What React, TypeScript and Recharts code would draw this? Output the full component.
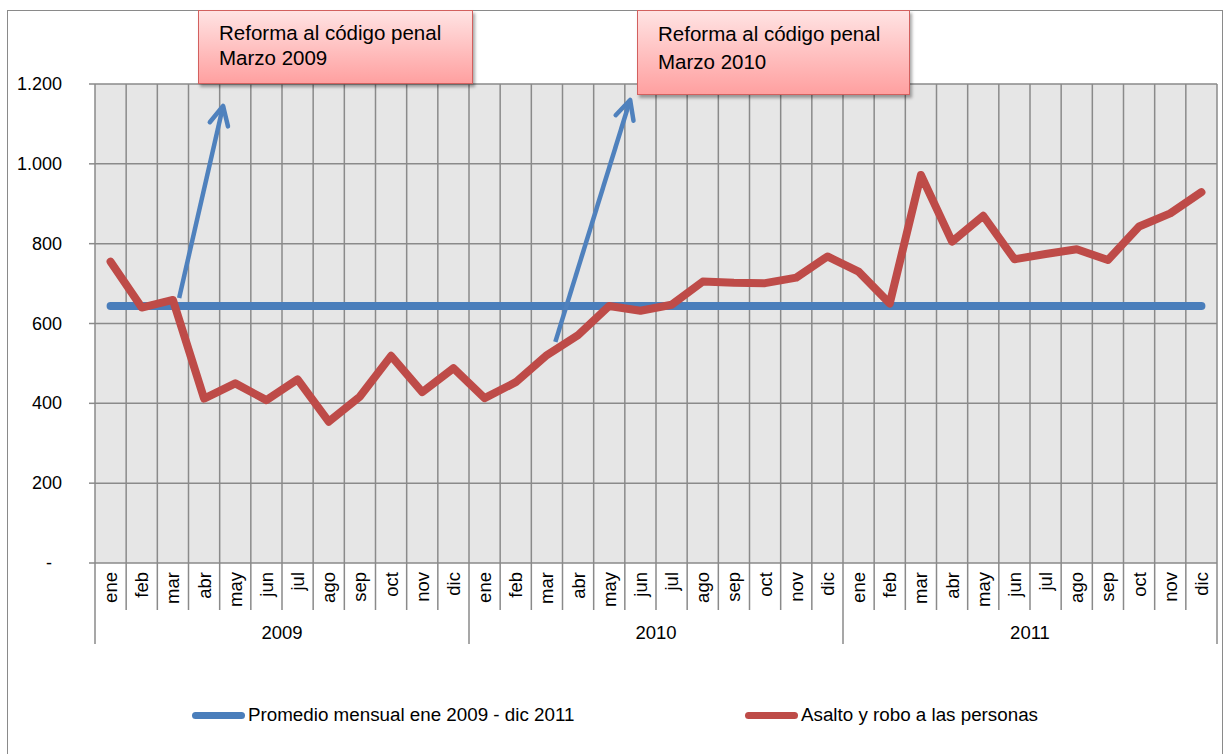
import { CartesianGrid, Line, LineChart, ReferenceLine, XAxis, YAxis } from 'recharts';

const MESES = ['ene', 'feb', 'mar', 'abr', 'may', 'jun', 'jul', 'ago', 'sep', 'oct', 'nov', 'dic'];
const ANIOS = ['2009', '2010', '2011'];

// Asalto y robo a las personas, ene 2009 - dic 2011
const ASALTO_2009 = [755, 640, 659, 412, 450, 408, 460, 354, 417, 519, 428, 488];
const ASALTO_2010 = [413, 453, 521, 571, 644, 632, 647, 705, 702, 701, 715, 768];
const ASALTO_2011 = [730, 650, 972, 805, 870, 761, 774, 786, 759, 843, 876, 929];
const ASALTO = [...ASALTO_2009, ...ASALTO_2010, ...ASALTO_2011];

// Promedio mensual ene 2009 - dic 2011
const PROMEDIO = 644;

const Y_TICKS = [0, 200, 400, 600, 800, 1000, 1200];

// anotaciones: [mes de inicio, valor de inicio, mes de la punta, valor de la punta]
const FLECHA_2009 = [2.2, 664, 3.61, 1145];
const FLECHA_2010 = [14.27, 554, 16.67, 1160];

const FONT = '"Liberation Sans", Arial, sans-serif';
const AZUL = '#4a7ebb';
const ROJO = '#be4b48';
const GRIS = '#8a8a8a';

const rows = ASALTO.map((v, i) => ({
  i,
  mes: MESES[i % 12],
  anio: ANIOS[Math.floor(i / 12)],
  promedio: PROMEDIO,
  asalto: v,
}));

const idx = rows.map((r) => r.i);
const bordes = [...idx.map((i) => i - 0.5), idx.length - 0.5];
const centrosAnio = ANIOS.map((_, k) => k * 12 + 5.5);

// the x axes are stacked 1px apart; ticks use the plot bottom as origin
const BASE = 563;

function fmt(v: number) {
  if (v === 0) return '-';
  if (v >= 1000) return `${Math.floor(v / 1000)}.${String(v % 1000).padStart(3, '0')}`;
  return String(v);
}

function BordeTick({ x, payload }: any) {
  const k = Math.round(payload.value + 0.5);
  const largo = k % 12 === 0 ? 81 : 47;
  return <line x1={x} y1={BASE} x2={x} y2={BASE + largo} stroke={GRIS} strokeWidth={1.5} />;
}

function MesTick({ x, payload }: any) {
  const yy = BASE + 9;
  return (
    <text
      x={x}
      y={yy}
      transform={`rotate(-90 ${x} ${yy})`}
      textAnchor="end"
      dominantBaseline="central"
      fontSize={18.5}
      fill="#000"
    >
      {MESES[payload.value % 12]}
    </text>
  );
}

function AnioTick({ x, payload }: any) {
  return (
    <text x={x} y={BASE + 76} textAnchor="middle" fontSize={18.5} fill="#000">
      {ANIOS[Math.floor(payload.value / 12)]}
    </text>
  );
}

function ValorTick({ x, y, payload }: any) {
  const v = payload.value;
  return (
    <text
      x={v === 0 ? x - 10 : x}
      y={y}
      textAnchor="end"
      dominantBaseline="central"
      fontSize={18}
      fill="#000"
    >
      {fmt(v)}
    </text>
  );
}

function Flecha(props: any) {
  const { x1, y1, x2, y2 } = props;
  const ang = Math.atan2(y1 - y2, x1 - x2);
  const len = 21;
  const abre = 0.46;
  const a = [x2 + len * Math.cos(ang + abre), y2 + len * Math.sin(ang + abre)];
  const b = [x2 + len * Math.cos(ang - abre), y2 + len * Math.sin(ang - abre)];
  return (
    <g>
      <line x1={x1} y1={y1} x2={x2} y2={y2} stroke="#4f81bd" strokeWidth={4.5} />
      <polyline
        points={`${a[0]},${a[1]} ${x2},${y2} ${b[0]},${b[1]}`}
        fill="none"
        stroke="#4f81bd"
        strokeWidth={4.5}
        strokeLinecap="round"
        strokeLinejoin="round"
      />
    </g>
  );
}

function Nota({ left, top, width, height, lineHeight, padTop, lines }: any) {
  return (
    <div
      style={{
        position: 'absolute',
        left,
        top,
        width,
        height,
        boxSizing: 'border-box',
        border: '1.5px solid #d2605e',
        background: 'linear-gradient(#ffe3e3, #ffa0a0)',
        boxShadow: '2px 3px 3px rgba(0,0,0,0.35)',
        paddingLeft: 20,
        paddingTop: padTop,
        fontFamily: FONT,
        fontSize: 20.5,
        lineHeight: `${lineHeight}px`,
        color: '#000',
      }}
    >
      {lines.map((l: string) => (
        <div key={l}>{l}</div>
      ))}
    </div>
  );
}

function LeyendaItem({ left, color, label }: any) {
  return (
    <div style={{ position: 'absolute', left, top: 703, display: 'flex', alignItems: 'center' }}>
      <div style={{ width: 53, height: 7, borderRadius: 4, background: color }} />
      <span style={{ fontFamily: FONT, fontSize: 18.8, color: '#000', marginLeft: 3, lineHeight: '24px' }}>
        {label}
      </span>
    </div>
  );
}

export default function App() {
  return (
    <div style={{ position: 'relative', width: 1224, height: 754, overflow: 'hidden', background: '#fff' }}>
      <style>{'body{margin:0}'}</style>
      <div
        style={{
          position: 'absolute',
          left: 7,
          top: 10,
          width: 1214,
          height: 780,
          border: `1.5px solid ${GRIS}`,
        }}
      />
      <div style={{ position: 'absolute', left: 0, top: 0 }}>
        <LineChart
          width={1224}
          height={754}
          data={rows}
          margin={{ top: 84, right: 7, bottom: 188, left: 0 }}
          style={{ fontFamily: FONT }}
        >
          <CartesianGrid xAxisId="g" yAxisId="v" fill="#e6e6e6" stroke={GRIS} strokeWidth={1.5} />
          <XAxis
            xAxisId="g"
            dataKey="i"
            type="number"
            domain={[-0.5, 35.5]}
            ticks={bordes}
            interval={0}
            height={1}
            tickSize={0}
            tickMargin={0}
            axisLine={false}
            tickLine={false}
            tick={(p: any) => <BordeTick {...p} />}
          />
          <XAxis
            xAxisId="m"
            dataKey="i"
            type="number"
            domain={[-0.5, 35.5]}
            ticks={idx}
            interval={0}
            height={1}
            tickSize={0}
            tickMargin={0}
            axisLine={false}
            tickLine={false}
            tick={(p: any) => <MesTick {...p} />}
          />
          <XAxis
            xAxisId="a"
            dataKey="i"
            type="number"
            domain={[-0.5, 35.5]}
            ticks={centrosAnio}
            interval={0}
            height={1}
            tickSize={0}
            tickMargin={0}
            axisLine={false}
            tickLine={false}
            tick={(p: any) => <AnioTick {...p} />}
          />
          <YAxis
            yAxisId="v"
            type="number"
            domain={[0, 1200]}
            ticks={Y_TICKS}
            interval={0}
            width={95}
            tickSize={6}
            tickMargin={27}
            axisLine={false}
            tickLine={{ stroke: GRIS, strokeWidth: 1.5 }}
            tick={(p: any) => <ValorTick {...p} />}
          />
          <Line
            xAxisId="m"
            yAxisId="v"
            dataKey="promedio"
            name="Promedio mensual ene 2009 - dic 2011"
            stroke={AZUL}
            strokeWidth={8}
            strokeLinecap="round"
            dot={false}
            activeDot={false}
            isAnimationActive={false}
          />
          <Line
            xAxisId="m"
            yAxisId="v"
            dataKey="asalto"
            name="Asalto y robo a las personas"
            stroke={ROJO}
            strokeWidth={8}
            strokeLinecap="round"
            strokeLinejoin="round"
            dot={false}
            activeDot={false}
            isAnimationActive={false}
          />
          <ReferenceLine
            xAxisId="m"
            yAxisId="v"
            ifOverflow="visible"
            segment={[
              { x: FLECHA_2009[0], y: FLECHA_2009[1] },
              { x: FLECHA_2009[2], y: FLECHA_2009[3] },
            ]}
            shape={(p: any) => <Flecha {...p} />}
          />
          <ReferenceLine
            xAxisId="m"
            yAxisId="v"
            ifOverflow="visible"
            segment={[
              { x: FLECHA_2010[0], y: FLECHA_2010[1] },
              { x: FLECHA_2010[2], y: FLECHA_2010[3] },
            ]}
            shape={(p: any) => <Flecha {...p} />}
          />
        </LineChart>
      </div>
      <Nota
        left={198}
        top={10}
        width={275}
        height={74}
        lineHeight={25}
        padTop={9}
        lines={['Reforma al código penal', 'Marzo 2009']}
      />
      <Nota
        left={637}
        top={10}
        width={273}
        height={85}
        lineHeight={28}
        padTop={9}
        lines={['Reforma al código penal', 'Marzo 2010']}
      />
      <LeyendaItem left={192} color={AZUL} label="Promedio mensual ene 2009 - dic 2011" />
      <LeyendaItem left={745} color={ROJO} label="Asalto y robo a las personas" />
    </div>
  );
}
